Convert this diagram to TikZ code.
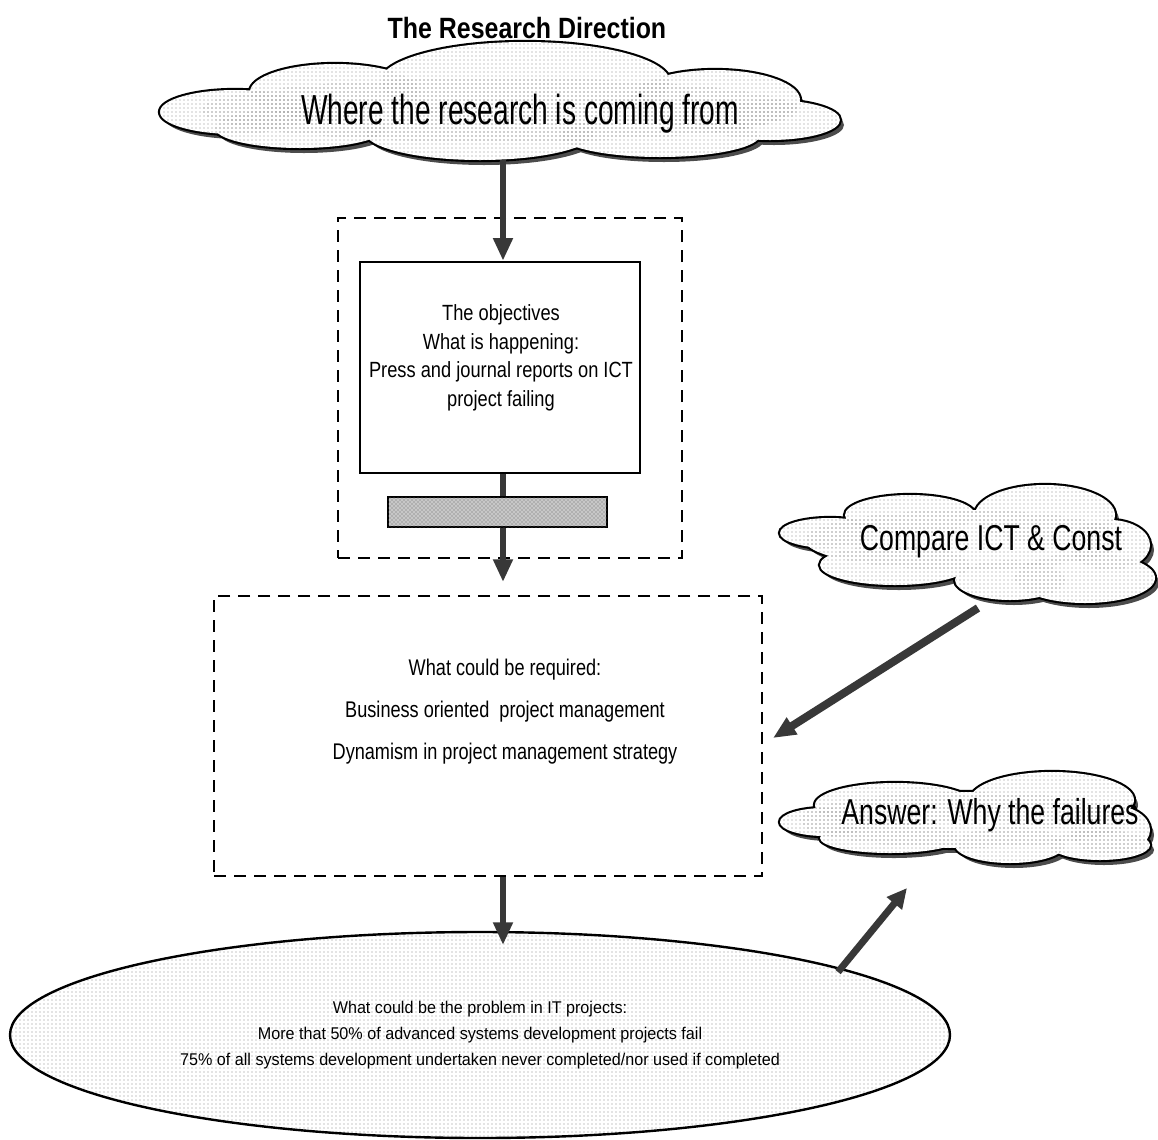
\documentclass[tikz,border=0pt]{standalone}
\usepackage{fontspec}
\setmainfont{Liberation Sans}
\newfontfamily\titlefont[FakeStretch=0.85]{Liberation Sans}
\newfontfamily\bigcloudfont[FakeStretch=0.67]{Liberation Sans}
\newfontfamily\cloudfont[FakeStretch=0.74]{Liberation Sans}
\newfontfamily\boxfont[FakeStretch=0.83]{Liberation Sans}
\newfontfamily\reqfont[FakeStretch=0.80]{Liberation Sans}
\newfontfamily\ovalfont[FakeStretch=0.95]{Liberation Sans}
\usetikzlibrary{arrows.meta,patterns,shapes.geometric}

% A cloud built from overlapping lobes, each given as cx/cy/rx/ry:
% shadow first, then the outline of every lobe, then the fill on top,
% so that only the outer contour stays visible.
\newcommand\puffcloud[1]{%
  \foreach \cx/\cy/\rx/\ry in {#1}
    \fill[cloudshadow] (\cx+4,\cy+5) ellipse [x radius=\rx, y radius=\ry];
  \foreach \cx/\cy/\rx/\ry in {#1}
    \draw[cloudedge] (\cx,\cy) ellipse [x radius=\rx, y radius=\ry];
  \foreach \cx/\cy/\rx/\ry in {#1}
    \fill[white] (\cx,\cy) ellipse [x radius=\rx, y radius=\ry];
  \foreach \cx/\cy/\rx/\ry in {#1}
    \fill[dotfill] (\cx,\cy) ellipse [x radius=\rx, y radius=\ry];
}

\tikzset{
  cloudshadow/.style={fill=black!70},
  cloudedge/.style={draw=black, line width=3.2pt},
  dotfill/.style={pattern=dots, pattern color=black!45},
  solidbox/.style={draw, line width=1.9pt, fill=white, inner sep=0pt},
  dashbox/.style={draw, line width=2.2pt, dash pattern=on 9pt off 6pt, inner sep=0pt},
  hatchbar/.style={draw, line width=1.5pt, fill=black!22, postaction={pattern=crosshatch dots, pattern color=black!60}, inner sep=0pt},
  fatarrow/.style={line width=4.8pt, draw=black!78, -{Triangle[length=17pt,width=14pt]}},
  slimarrow/.style={line width=5.2pt, draw=black!78, -{Triangle[length=15pt,width=14pt]}},
  boxtext/.style={font=\boxfont\fontsize{16.5}{21.4}\selectfont, align=center, inner sep=0pt},
  reqtext/.style={font=\reqfont\fontsize{17}{31.5}\selectfont, align=center, inner sep=0pt},
  ovaltext/.style={font=\ovalfont\fontsize{12.75}{19.5}\selectfont, align=center},
}

\begin{document}
\begin{tikzpicture}[x=0.75pt, y=-0.75pt]
\useasboundingbox (0,0) rectangle (1158,1140);

% heading
\node[font=\titlefont\bfseries\fontsize{22}{26}\selectfont] (title) at (527,28) {The Research Direction};

% source cloud
\puffcloud{235/112/75/22, 335/92/85/28, 525/82/145/40, 715/100/85/30,
           770/120/70/20, 660/135/100/22, 480/132/115/28, 300/128/85/20,
           500/110/300/32}
\node[font=\bigcloudfont\fontsize{31.5}{36}\selectfont] (src) at (520,114) {Where the research is coming from};

% objectives block
\node[dashbox, minimum width=258pt, minimum height=255pt] (outer) at (510,388) {};
\node[solidbox, minimum width=210pt, minimum height=158.25pt] (obj) at (500,367.5) {};
\node[boxtext] (objtxt) at (501,358) {The objectives\\What is happening:\\Press and journal reports on ICT\\project failing};

\coordinate (srcout) at (503,160);
\coordinate (lowexit) at (503,582);
\draw[fatarrow] (srcout) -- (srcout |- obj.north);
\draw[fatarrow] (obj.south -| srcout) -- (lowexit);
\node[hatchbar, minimum width=164.25pt, minimum height=22.5pt] (bar) at (497.5,512) {};

% requirements block
\node[dashbox, minimum width=411pt, minimum height=210pt] (req) at (488,736) {};
\node[reqtext] (reqtxt) at (505,712) {What could be required:\\Business oriented\ \ project management\\Dynamism in project management strategy};

% problem oval
\node[ellipse, draw, line width=1.8pt, minimum width=705pt, minimum height=154.5pt,
      inner sep=0pt, preaction={fill=white}, pattern=dots, pattern color=black!45,
      ovaltext] (prob) at (480,1035)
  {What could be the problem in IT projects:\\More that 50\% of advanced systems development projects fail\\75\% of all systems development undertaken never completed/nor used if completed};

\coordinate (probin) at (503,945);
\draw[fatarrow] (req.south -| srcout) -- (probin);

% comparison cloud
\puffcloud{830/533/50/15, 910/515/65/20, 1045/515/70/30, 1110/545/40/25,
           1085/578/70/25, 1010/580/55/20, 895/565/75/20, 965/540/160/30}
\node[font=\cloudfont\fontsize{27}{31}\selectfont] (cmp) at (991,542) {Compare ICT \& Const};
\coordinate (cmpfoot) at (978,608);
\coordinate (reqside) at (773,738);
\draw[fatarrow, line width=6pt] (cmpfoot) -- (reqside);

% answer cloud
\puffcloud{825/822/45/14, 895/805/80/22, 1052/800/82/28, 1110/830/40/25,
           1100/845/50/15, 1010/845/55/18, 890/838/70/15, 965/820/165/28}
\node[font=\cloudfont\fontsize{27}{31}\selectfont] (ans) at (990,815) {Answer: Why the failures};
\coordinate (probedge) at (838,972);
\coordinate (ansfoot) at (907,888);
\draw[slimarrow] (probedge) -- (ansfoot);
\end{tikzpicture}
\end{document}
